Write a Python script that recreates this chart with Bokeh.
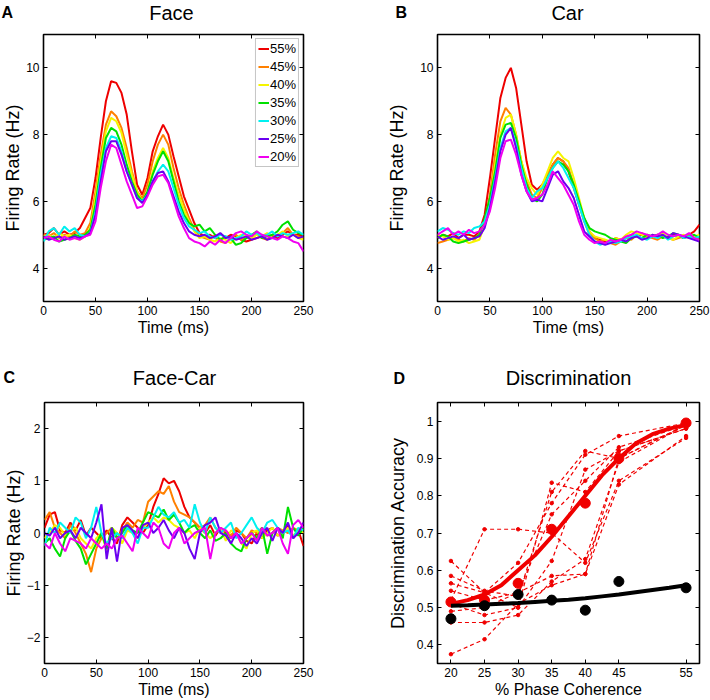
from bokeh.plotting import figure
from bokeh.models import Range1d, FixedTicker, LinearAxis, Label, Legend, LegendItem
from bokeh.layouts import column, row
from bokeh.embed import file_html
from bokeh.resources import INLINE

FONT = "Liberation Sans"

# ---------------- data ----------------
time_ms = list(range(0, 251, 5))
coherence_labels = ["55%", "45%", "40%", "35%", "30%", "25%", "20%"]
colors = ["#ee0000", "#ff8000", "#f5f500", "#00e000", "#00f0f0", "#6a00f0", "#f000f0"]

face_55 = [5.0, 5.05, 5.2, 5.0, 5.1, 5.0, 5.05, 5.2, 5.5, 5.8, 6.7, 7.9, 9.0, 9.6, 9.55, 9.25, 8.6, 7.5, 6.5, 6.2,
           6.7, 7.5, 7.95, 8.3, 8.0, 7.35, 6.75, 6.15, 5.75, 5.35, 5.05, 4.95, 5.0, 4.9, 4.85, 4.9, 5.0, 4.95, 4.85, 4.8,
           4.85, 4.9, 4.95, 5.0, 4.95, 4.9, 5.0, 5.1, 5.0, 5.0, 4.95]
face_45 = [5.0, 4.95, 5.05, 4.9, 5.0, 4.95, 5.1, 5.0, 5.05, 5.35, 6.3, 7.4, 8.3, 8.7, 8.55, 8.2, 7.6, 6.9, 6.3, 6.1,
           6.5, 7.2, 7.7, 8.0, 7.7, 7.0, 6.4, 5.9, 5.5, 5.15, 4.95, 4.9, 4.85, 5.0, 4.8, 4.75, 4.9, 5.0, 4.85, 4.9,
           4.95, 5.0, 4.9, 4.85, 5.0, 4.95, 5.05, 5.2, 5.0, 4.95, 4.9]
face_40 = [4.95, 5.0, 4.9, 5.05, 4.95, 5.0, 4.9, 4.85, 4.95, 5.2, 6.1, 7.2, 8.1, 8.5, 8.4, 8.05, 7.4, 6.8, 6.3, 6.0,
           6.3, 6.9, 7.3, 7.6, 7.3, 6.7, 6.2, 5.75, 5.4, 5.1, 4.9, 4.95, 4.85, 4.8, 4.9, 4.85, 4.75, 4.9, 5.0, 4.95,
           4.9, 5.0, 4.95, 5.05, 4.9, 5.0, 5.1, 4.95, 5.0, 4.9, 4.85]
face_35 = [4.85, 4.9, 4.95, 4.8, 4.85, 4.9, 5.0, 4.95, 5.0, 5.15, 5.9, 7.0, 7.9, 8.2, 8.1, 7.7, 7.1, 6.6, 6.2, 6.0,
           6.3, 6.8, 7.2, 7.5, 7.2, 6.6, 6.0, 5.6, 5.35, 5.25, 5.3, 5.1, 5.2, 5.0, 4.85, 4.95, 4.9, 4.7, 4.75, 4.9,
           5.0, 5.1, 4.9, 4.95, 5.0, 5.1, 5.3, 5.4, 5.15, 5.05, 5.0]
face_30 = [4.8, 5.1, 5.2, 5.0, 5.25, 5.1, 5.2, 5.0, 4.95, 5.05, 5.7, 6.8, 7.6, 7.95, 7.9, 7.5, 6.9, 6.5, 6.1, 6.0,
           6.2, 6.6, 6.9, 7.1, 6.9, 6.4, 5.9, 5.5, 5.25, 5.15, 5.05, 5.1, 4.95, 4.9, 5.0, 4.95, 4.85, 4.9, 4.95, 5.1,
           5.0, 5.05, 4.95, 5.0, 5.1, 4.95, 5.05, 5.0, 5.05, 5.1, 5.0]
face_25 = [4.95, 4.85, 4.9, 4.95, 4.85, 4.9, 4.95, 4.9, 4.95, 5.05, 5.6, 6.6, 7.5, 7.8, 7.8, 7.4, 6.9, 6.5, 6.1, 5.95,
           6.2, 6.6, 6.85, 6.9, 6.6, 6.15, 5.7, 5.35, 5.1, 5.0, 4.95, 5.0, 4.9, 4.95, 5.05, 4.9, 4.95, 4.85, 4.9, 4.95,
           4.85, 4.9, 4.95, 4.85, 4.9, 5.0, 4.95, 4.9, 5.0, 4.9, 4.95]
face_20 = [4.9, 4.95, 4.85, 4.8, 4.95, 4.85, 4.9, 4.85, 4.95, 5.0, 5.4, 6.4, 7.2, 7.7, 7.6, 7.1, 6.6, 6.2, 5.8, 5.85,
           6.15, 6.5, 6.75, 6.8, 6.55, 6.05, 5.55, 5.2, 4.9, 4.8, 4.75, 4.65, 4.8, 4.7, 4.85, 4.75, 4.9, 5.05, 5.1, 5.0,
           4.95, 5.1, 5.0, 4.95, 4.9, 4.85, 4.95, 4.9, 4.8, 4.75, 4.5]

car_55 = [4.9, 5.0, 4.95, 5.05, 4.9, 5.0, 5.0, 4.95, 5.1, 5.6, 6.7, 7.9, 9.1, 9.7, 10.0, 9.4, 8.3, 7.2, 6.5, 6.35,
          6.5, 6.8, 7.1, 7.3, 7.2, 6.9, 6.4, 5.9, 5.5, 5.1, 4.9, 4.85, 4.8, 4.75, 4.9, 4.85, 4.9, 5.0, 4.95, 5.0,
          4.9, 4.95, 5.0, 4.95, 4.9, 5.0, 4.95, 4.9, 5.0, 5.1, 5.3]
car_45 = [4.75, 4.8, 4.85, 4.9, 4.85, 4.8, 4.9, 4.85, 5.0, 5.35, 6.2, 7.4, 8.4, 8.8, 8.6, 8.0, 7.2, 6.6, 6.2, 6.1,
          6.4, 6.8, 7.1, 7.3, 7.2, 7.0, 6.5, 5.9, 5.4, 5.0, 4.9, 4.8, 4.85, 4.75, 4.7, 4.8, 4.9, 4.85, 5.0, 5.05,
          4.95, 4.9, 4.85, 4.95, 4.9, 4.85, 4.9, 4.95, 5.0, 4.9, 4.85]
car_40 = [5.0, 4.95, 4.85, 4.9, 4.8, 4.85, 4.75, 4.8, 4.85, 5.3, 6.0, 7.1, 8.0, 8.5, 8.6, 8.0, 7.2, 6.7, 6.4, 6.2,
          6.5, 6.9, 7.3, 7.5, 7.3, 7.2, 6.7, 6.1, 5.5, 5.1, 4.95, 4.9, 4.85, 4.8, 4.9, 4.85, 5.0, 5.1, 5.05, 5.0,
          4.9, 5.0, 4.95, 5.05, 4.9, 4.85, 4.95, 5.0, 4.9, 4.95, 5.0]
car_35 = [4.9, 5.0, 4.95, 4.8, 4.75, 4.8, 4.85, 4.9, 5.0, 5.5, 6.1, 6.9, 7.9, 8.3, 8.35, 7.9, 7.1, 6.5, 6.1, 6.0,
          6.2, 6.7, 7.0, 7.2, 7.1, 6.9, 6.5, 6.0, 5.5, 5.2, 5.1, 5.05, 5.0, 4.9, 4.85, 4.8, 4.75, 4.9, 4.95, 4.9,
          5.0, 4.95, 5.0, 4.9, 4.95, 5.05, 5.0, 4.9, 4.95, 5.0, 4.9]
car_30 = [5.1, 5.2, 5.15, 5.05, 5.0, 5.1, 5.05, 5.2, 5.25, 5.4, 5.9, 6.7, 7.6, 8.1, 8.2, 7.7, 7.0, 6.4, 6.1, 6.3,
          6.4, 6.7, 7.0, 7.2, 7.0, 6.7, 6.4, 5.9, 5.4, 5.0, 4.8, 4.7, 4.75, 4.8, 4.75, 4.8, 4.9, 4.95, 5.0, 4.9,
          4.85, 4.95, 4.9, 5.0, 4.85, 4.95, 5.0, 4.9, 4.95, 4.9, 4.95]
car_25 = [4.95, 4.85, 4.9, 4.95, 4.9, 5.0, 4.85, 4.9, 4.95, 5.2, 5.8, 6.6, 7.5, 8.0, 8.2, 7.6, 6.8, 6.3, 6.0, 6.05,
          6.0, 6.4, 6.8, 6.9, 6.6, 6.4, 6.1, 5.6, 5.1, 4.95, 4.8, 4.75, 4.7, 4.75, 4.8, 4.85, 4.8, 4.9, 4.95, 4.85,
          4.9, 5.0, 4.95, 5.0, 4.9, 5.05, 5.0, 4.95, 4.9, 4.85, 4.8]
car_20 = [5.0, 5.1, 5.2, 5.0, 5.1, 5.0, 5.15, 5.05, 5.1, 5.3, 5.7, 6.4, 7.3, 7.8, 7.85, 7.4, 6.8, 6.3, 6.05, 6.1,
          6.2, 6.5, 6.9, 6.7, 6.5, 6.2, 5.9, 5.4, 5.0, 4.85, 4.75, 4.8, 4.75, 4.85, 4.8, 4.85, 4.95, 5.0, 5.1, 5.05,
          5.0, 4.95, 5.0, 5.1, 5.0, 4.95, 5.0, 4.95, 5.05, 4.9, 4.85]

diff_55 = [0.1, 0.35, 0.4, 0.05, 0.0, 0.2, 0.05, 0.25, -0.05, 0.1, 0.0, -0.1, 0.05, -0.1, -0.2, 0.15, 0.3, 0.2, 0.1, 0.0,
           0.15, 0.5, 0.75, 1.05, 0.95, 1.0, 0.8, 0.5, 0.3, 0.2, 0.1, 0.0, 0.15, -0.05, 0.1, 0.0, -0.1, 0.05, 0.0, -0.15,
           -0.2, 0.0, -0.1, 0.05, 0.1, -0.05, 0.0, 0.15, -0.1, 0.05, -0.25]
diff_45 = [0.25, 0.4, 0.1, 0.0, -0.1, 0.15, 0.0, -0.2, -0.4, -0.75, -0.3, -0.1, 0.0, 0.1, -0.1, 0.05, 0.2, 0.1, 0.25, 0.2,
           0.6, 0.7, 0.8, 0.75, 0.9, 0.6, 0.4, 0.35, 0.3, 0.2, 0.1, 0.15, 0.3, 0.1, 0.0, 0.05, -0.05, 0.1, 0.0, -0.1,
           0.05, 0.0, 0.1, -0.05, 0.0, 0.1, 0.05, 0.0, 0.1, 0.05, 0.0]
diff_40 = [-0.1, 0.0, 0.15, 0.1, -0.05, 0.05, 0.1, -0.1, -0.2, -0.3, -0.1, 0.0, -0.35, 0.1, 0.0, -0.2, 0.05, 0.0, -0.1, 0.1,
           0.2, 0.3, 0.2, 0.3, 0.25, 0.15, 0.1, 0.0, 0.05, -0.1, 0.1, 0.0, -0.1, 0.0, 0.1, -0.15, 0.05, 0.0, -0.2, -0.3,
           0.0, 0.05, -0.1, 0.0, 0.1, -0.05, 0.0, 0.1, -0.05, 0.05, 0.0]
diff_35 = [-0.2, -0.1, -0.3, -0.45, -0.1, 0.05, -0.15, -0.3, -0.6, -0.4, -0.2, 0.0, -0.3, 0.1, -0.1, 0.0, 0.15, 0.05, 0.0, 0.2,
           0.4, 0.35, 0.3, 0.45, 0.25, 0.35, 0.2, 0.0, 0.1, 0.15, 0.0, -0.1, 0.05, -0.15, -0.1, 0.0, -0.2, -0.3, -0.35, -0.1,
           0.0, -0.1, 0.1, -0.4, 0.0, 0.1, -0.1, 0.5, 0.1, -0.05, 0.1]
diff_30 = [-0.25, 0.1, 0.0, 0.2, 0.1, 0.0, 0.3, 0.2, -0.1, 0.1, 0.5, 0.0, -0.2, -0.1, 0.0, -0.1, 0.1, 0.0, -0.2, 0.1,
           0.1, 0.3, 0.5, 0.35, 0.3, 0.4, 0.2, 0.25, 0.1, 0.55, 0.2, 0.0, 0.3, 0.1, 0.0, 0.1, 0.2, -0.1, 0.0, 0.15,
           0.3, 0.1, 0.0, 0.2, 0.25, 0.1, 0.0, 0.05, -0.1, 0.1, 0.05]
diff_25 = [0.0, -0.05, 0.1, -0.1, 0.0, 0.05, -0.1, 0.1, 0.0, -0.1, 0.2, 0.55, -0.5, 0.1, -0.55, 0.1, 0.15, 0.05, -0.1, 0.15,
           0.2, 0.0, 0.1, 0.25, 0.05, -0.1, 0.1, 0.0, -0.3, -0.5, 0.0, 0.15, 0.2, 0.3, 0.0, -0.05, -0.2, 0.0, -0.1, -0.25,
           -0.1, -0.2, 0.0, 0.1, -0.15, 0.1, 0.0, 0.2, -0.1, 0.0, 0.2]
diff_20 = [-0.2, -0.3, 0.0, -0.2, -0.35, -0.1, -0.15, -0.2, -0.3, -0.1, -0.2, -0.3, -0.2, -0.3, -0.1, -0.05, -0.2, -0.35, 0.1, 0.0,
           -0.1, 0.2, 0.1, -0.2, -0.3, 0.0, 0.1, -0.2, -0.1, 0.0, 0.05, 0.1, -0.5, 0.0, 0.1, 0.05, -0.1, 0.0, -0.2, -0.1,
           0.0, -0.15, 0.1, -0.05, 0.0, 0.1, -0.2, -0.4, 0.15, 0.25, 0.1]

face_series = [face_55, face_45, face_40, face_35, face_30, face_25, face_20]
car_series = [car_55, car_45, car_40, car_35, car_30, car_25, car_20]
diff_series = [diff_55, diff_45, diff_40, diff_35, diff_30, diff_25, diff_20]

coherence = [20, 25, 30, 35, 40, 45, 55]
neural_mean = [0.515, 0.52, 0.565, 0.71, 0.78, 0.90, 0.995]
behav_mean = [0.47, 0.505, 0.535, 0.52, 0.493, 0.57, 0.553]
subjects = [
    [0.375, 0.415, 0.51, 0.56, 0.59, 0.83, 0.96],
    [0.46, 0.46, 0.48, 0.57, 0.63, 0.89, 0.99],
    [0.51, 0.48, 0.50, 0.625, 0.87, 0.92, 0.98],
    [0.545, 0.52, 0.54, 0.75, 0.84, 0.93, 0.99],
    [0.565, 0.54, 0.62, 0.78, 0.91, 0.96, 0.995],
    [0.585, 0.545, 0.53, 0.81, 0.92, 0.90, 0.99],
    [0.625, 0.54, 0.50, 0.835, 0.81, 0.92, 0.98],
    [0.52, 0.71, 0.71, 0.70, 0.62, 0.84, 0.955],
    [0.49, 0.50, 0.54, 0.585, 0.59, 0.90, 0.99],
]
fit_x = [20, 22.5, 25, 27.5, 30, 32.5, 35, 37.5, 40, 42.5, 45, 47.5, 50, 52.5, 55]
fit_neural = [0.51, 0.52, 0.535, 0.56, 0.60, 0.64, 0.69, 0.745, 0.80, 0.855, 0.90, 0.94, 0.965, 0.98, 0.99]
fit_behav = [0.505, 0.506, 0.508, 0.51, 0.512, 0.515, 0.518, 0.521, 0.525, 0.53, 0.535, 0.541, 0.547, 0.553, 0.56]

time_ticks = [0, 50, 100, 150, 200, 250]
rate_ticks = [4, 6, 8, 10]
diff_ticks = [-2, -1, 0, 1, 2]
acc_ticks = [0.4, 0.5, 0.6, 0.7, 0.8, 0.9, 1.0]


# ---------------- helpers ----------------
def style_axis(ax, ticks, label_size=None, label_standoff=1, show_labels=True):
    ax.ticker = FixedTicker(ticks=ticks)
    ax.axis_line_color = None
    ax.major_tick_in = 4
    ax.major_tick_out = 0
    ax.major_tick_line_color = "black"
    ax.major_tick_line_width = 1
    ax.minor_tick_line_color = None
    if show_labels:
        ax.major_label_text_font = FONT
        ax.major_label_text_font_size = "12px"
        ax.major_label_text_color = "black"
        ax.major_label_standoff = 4
        ax.axis_label_text_font = FONT
        ax.axis_label_text_font_size = label_size
        ax.axis_label_text_font_style = "normal"
        ax.axis_label_text_color = "black"
        ax.axis_label_standoff = label_standoff
    else:
        ax.major_label_text_font_size = "1px"
        ax.major_label_text_color = None
        ax.major_label_standoff = 0


def canvas_label(text, x, y, size, style, align):
    return Label(x=x, y=y, x_units="canvas", y_units="canvas", text=text,
                 text_font=FONT, text_font_size=size, text_font_style=style,
                 text_baseline="middle", text_align=align, text_color="black")


def make_fig(height, xr, yr, bl, br, bt, bb, title, title_x, title_y, letter, letter_x, letter_y, letter_side,
             xticks, yticks, xlabel, ylabel, ylabel_standoff):
    p = figure(width=355, height=height, x_range=xr, y_range=yr, title=None,
               output_backend="svg", toolbar_location=None,
               min_border_left=bl, min_border_right=br, min_border_top=bt, min_border_bottom=bb)
    p.grid.visible = False
    p.background_fill_color = "white"
    p.border_fill_color = "white"
    p.outline_line_color = "black"
    p.outline_line_width = 1.6
    p.outline_line_alpha = 1.0
    p.xaxis.axis_label = xlabel
    p.yaxis.axis_label = ylabel
    style_axis(p.xaxis[0], xticks, "16px", 1)
    style_axis(p.yaxis[0], yticks, "18px", ylabel_standoff)
    top = LinearAxis()
    style_axis(top, xticks, show_labels=False)
    right = LinearAxis()
    style_axis(right, yticks, show_labels=False)
    p.add_layout(top, "above")
    p.add_layout(right, "right")
    p.add_layout(canvas_label(title, title_x, title_y, "20px", "normal", "center"), "above")
    p.add_layout(canvas_label(letter, letter_x, letter_y, "16px", "bold", "left"), letter_side)
    return p


# ---------------- panel A ----------------
pA = make_fig(340, Range1d(0, 250), Range1d(3, 11), 39, 52, 34, 39, "Face", 171, 12, "A", 1, 12, "right",
              time_ticks, rate_ticks, "Time (ms)", "Firing Rate (Hz)", 0)
items = []
for lab, col, ys in zip(coherence_labels, colors, face_series):
    r = pA.line(time_ms, ys, line_color=col, line_width=2)
    items.append(LegendItem(label=lab, renderers=[r]))
legend = Legend(items=items, location="top_right")
legend.label_text_font = FONT
legend.label_text_font_size = "13px"
legend.label_text_color = "black"
legend.glyph_width = 11
legend.glyph_height = 15
legend.label_height = 15
legend.label_standoff = 1
legend.spacing = 3
legend.padding = 2
legend.margin = 4
legend.border_line_color = "#8c8c8c"
legend.border_line_width = 1
legend.background_fill_color = "white"
pA.add_layout(legend)

# ---------------- panel B ----------------
pB = make_fig(340, Range1d(0, 250), Range1d(3, 11), 82, 11, 34, 39, "Car", 212, 12, "B", 40, 12, "left",
              time_ticks, rate_ticks, "Time (ms)", "Firing Rate (Hz)", 10)
for col, ys in zip(colors, car_series):
    pB.line(time_ms, ys, line_color=col, line_width=2)

# ---------------- panel C ----------------
pC = make_fig(360, Range1d(0, 250), Range1d(-2.5, 2.5), 39, 52, 62, 37, "Face-Car", 174, 37, "C", 3, 37, "right",
              time_ticks, diff_ticks, "Time (ms)", "Firing Rate (Hz)", 0)
for col, ys in zip(colors, diff_series):
    pC.line(time_ms, ys, line_color=col, line_width=2)

# ---------------- panel D ----------------
pD = make_fig(360, Range1d(18, 57), Range1d(0.35, 1.05), 82, 11, 62, 37, "Discrimination", 213, 37, "D", 38, 38,
              "left", coherence, acc_ticks, "% Phase Coherence", "Discrimination Accuracy", 6)
pD.yaxis[0].major_label_overrides = {1.0: "1"}
red = "#f00000"
for s in subjects:
    pD.line(coherence, s, line_color=red, line_width=1.2, line_dash="4 3")
    pD.scatter(coherence, s, size=3.5, color=red)
pD.line(fit_x, fit_neural, line_color=red, line_width=4)
pD.scatter(coherence, neural_mean, size=10, color=red)
pD.line(fit_x, fit_behav, line_color="black", line_width=4)
pD.scatter(coherence, behav_mean, size=10, color="black")

layout = column(row(pA, pB), row(pC, pD))
open("out.html", "w").write(file_html(layout, INLINE))
